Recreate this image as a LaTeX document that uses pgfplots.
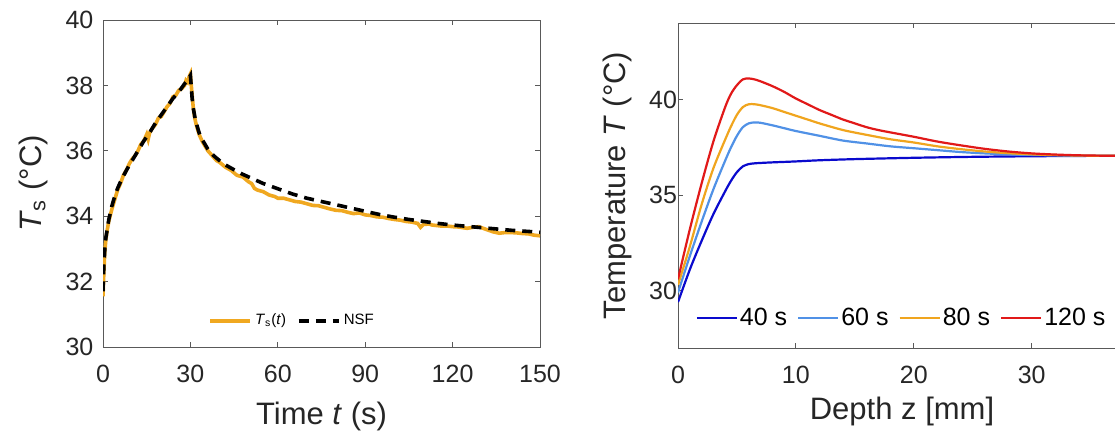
\documentclass[border=0pt]{standalone}
\usepackage{fontspec}
\setmainfont{Liberation Sans}
\usepackage{pgfplots}
\pgfplotsset{compat=1.18}

\definecolor{axtext}{RGB}{38,38,38}
\definecolor{tsorange}{RGB}{240,168,32}
\definecolor{c40}{RGB}{10,10,205}
\definecolor{c60}{RGB}{80,145,230}
\definecolor{c80}{RGB}{240,165,30}
\definecolor{c120}{RGB}{225,25,25}

\pgfplotsset{
  matlab/.style={
    scale only axis,
    axis line style={black!65, line width=0.5pt},
    every tick/.style={black!65, line width=0.5pt},
    major tick length=2.5pt,
    tick align=inside,
    ticklabel style={font=\fontsize{12.5}{14}\selectfont, text=axtext},
    label style={font=\fontsize{15.5}{18}\selectfont, text=axtext},
    /pgf/number format/assume math mode=true,
    xticklabel style={yshift=-5.5pt},
    legend cell align=left,
    legend image code/.code={\draw[#1] (0pt,0pt) -- (20pt,0pt);},
  },
}

\begin{document}
\begin{tikzpicture}
% picture frame in pt: 1 px of the reference = 0.5pt
\useasboundingbox (0pt,0pt) rectangle (557.5pt,-215pt);
\clip (0pt,0pt) rectangle (557.5pt,-215pt);

% ---- left: surface temperature over time
\begin{axis}[
  matlab,
  at={(51.5pt,-173.5pt)}, anchor=south west,
  width=218.5pt, height=163.5pt,
  xmin=0, xmax=150, ymin=30, ymax=40,
  xtick={0,30,...,150}, ytick={30,32,...,40},
  yticklabel style={xshift=-1.3pt},
  xlabel={Time \textit{t} (s)},
  ylabel={\textit{T}\textsubscript{s} (°C)},
  xlabel style={at={(axis description cs:0.5,-0.2385)}, anchor=base},
  ylabel style={at={(axis description cs:-0.16,0.5)}, anchor=center},
  legend style={at={(axis description cs:0.434,0.08)}, anchor=center,
    draw=none, fill=none, legend columns=2,
    font=\fontsize{7.5}{9}\selectfont,
    nodes={inner xsep=1.5pt},
    /tikz/every even column/.append style={column sep=4pt}},
]
\addplot[tsorange, line width=1.8pt] coordinates {
(0,31.55) (0.3,32.3) (0.6,32.9) (1,33.3) (1.5,33.6) (2,33.85) (3,34.2) (4,34.5)
(5,34.8) (6,35.0) (7,35.25) (8,35.4) (9,35.6) (10,35.75) (11,35.85) (12,36.0)
(13,36.2) (14,36.3) (15,36.5) (15.5,36.35) (16,36.55) (17,36.7) (18,36.8) (19,37.0)
(20,37.05) (21,37.2) (22,37.35) (23,37.45) (24,37.65) (25,37.7) (26,37.85) (27,37.9)
(28,38.0) (28.5,38.15) (29,38.1) (29.5,38.25) (30,38.35) (30.3,38.0) (30.7,37.6) (31,37.3)
(31.5,37.0) (32,36.8) (33,36.5) (34,36.3) (35,36.15) (36,36.0) (37,35.9) (38,35.8)
(39,35.7) (40,35.65) (42,35.5) (44,35.4) (46,35.25) (48,35.2) (50,35.05) (51,35.0)
(52,34.85) (53,34.8) (55,34.75) (57,34.65) (59,34.6) (60,34.55) (62,34.55) (64,34.5)
(66,34.45) (68,34.43) (70,34.38) (72,34.33) (74,34.32) (76,34.27) (78,34.22) (80,34.18)
(82,34.17) (84,34.12) (86,34.08) (88,34.1) (90,34.04) (92,34.02) (94,33.98) (96,33.97)
(98,33.93) (100,33.9) (102,33.88) (104,33.84) (106,33.82) (108,33.78) (109,33.66) (110,33.75)
(112,33.76) (113,33.73) (116,33.7) (118,33.7) (120,33.68) (122,33.67) (125,33.63) (127,33.66)
(129,33.68) (132,33.58) (134,33.52) (136,33.48) (138,33.5) (140,33.5) (142,33.49) (144,33.47)
(146,33.46) (148,33.42) (150,33.4)
};
\addlegendentry{\textit{T}\textsubscript{s}(\textit{t})}
\addplot[black, line width=1.8pt, dash pattern=on 5pt off 3.5pt] coordinates {
(0,31.7) (0.3,32.5) (0.7,33.1) (1,33.35) (2,33.9) (3,34.3) (4,34.6) (5,34.85)
(6,35.05) (8,35.4) (10,35.7) (12,36.0) (14,36.3) (16,36.55) (18,36.85) (20,37.1)
(22,37.35) (24,37.6) (26,37.8) (28,38.05) (29,38.15) (30,38.3) (30.3,37.95) (30.6,37.6)
(31,37.3) (31.5,37.05) (32,36.85) (33,36.55) (34,36.35) (35,36.2) (36,36.05) (38,35.85)
(40,35.7) (42,35.57) (45,35.42) (48,35.28) (50,35.2) (55,35.0) (60,34.84) (65,34.68)
(70,34.55) (75,34.45) (80,34.35) (85,34.25) (90,34.15) (95,34.05) (100,33.97) (105,33.9)
(110,33.84) (115,33.78) (120,33.73) (125,33.69) (130,33.65) (135,33.61) (140,33.57)
(145,33.54) (150,33.51)
};
\addlegendentry{NSF}
\end{axis}

% ---- right: temperature over depth
\begin{axis}[
  matlab,
  at={(339pt,-174pt)}, anchor=south west,
  width=224pt, height=162.5pt,
  xmin=0, xmax=38, ymin=27, ymax=44,
  xtick={0,10,20,30}, ytick={30,35,40},
  yticklabel style={xshift=3pt},
  xlabel={Depth z [mm]},
  ylabel={Temperature \textit{T} (°C)},
  xlabel style={at={(axis description cs:0.5,-0.2215)}, anchor=base},
  ylabel style={at={(axis description cs:-0.134,0.5)}, anchor=center},
  legend style={at={(axis description cs:0.499,0.092)}, anchor=center,
    draw=none, fill=none, legend columns=4,
    font=\fontsize{12.5}{14}\selectfont,
    nodes={inner xsep=1pt},
    /tikz/every even column/.append style={column sep=4pt}},
]
\addplot[c40, line width=1.1pt, smooth] coordinates {
(0,29.4) (1,31.1) (2,32.6) (3,34.0) (4,35.2) (4.5,35.75) (5,36.2) (5.5,36.5)
(6,36.62) (6.5,36.66) (7,36.68) (8,36.71) (10,36.76) (12,36.82) (15,36.88)
(20,36.95) (25,37.0) (30,37.03) (35,37.05) (38,37.05)
};
\addlegendentry{40 s}
\addplot[c60, line width=1.1pt, smooth] coordinates {
(0,29.9) (1,31.8) (2,33.6) (3,35.3) (4,36.8) (4.5,37.5) (5,38.1) (5.5,38.55)
(6,38.75) (6.5,38.8) (7,38.78) (8,38.65) (9,38.5) (10,38.35) (12,38.1) (14,37.85)
(16,37.7) (18,37.55) (20,37.45) (22,37.35) (24,37.25) (26,37.18) (28,37.13)
(30,37.1) (32,37.08) (35,37.06) (38,37.05)
};
\addlegendentry{60 s}
\addplot[c80, line width=1.1pt, smooth] coordinates {
(0,30.3) (1,32.3) (2,34.5) (3,36.4) (4,37.9) (4.5,38.6) (5,39.2) (5.5,39.6)
(6,39.75) (6.5,39.75) (7,39.7) (8,39.55) (9,39.35) (10,39.15) (11,38.95) (12,38.75)
(14,38.4) (16,38.15) (18,37.92) (20,37.75) (22,37.55) (24,37.4) (26,37.28)
(28,37.19) (30,37.13) (32,37.09) (35,37.06) (38,37.05)
};
\addlegendentry{80 s}
\addplot[c120, line width=1.1pt, smooth] coordinates {
(0,30.6) (1,33.2) (2,35.6) (3,37.8) (4,39.6) (4.5,40.3) (5,40.75) (5.5,41.05)
(6,41.1) (6.5,41.05) (7,40.95) (8,40.7) (9,40.4) (10,40.05) (11,39.75) (12,39.45)
(13,39.2) (14,38.95) (15,38.75) (16,38.55) (17,38.4) (18,38.28) (20,38.05)
(22,37.8) (24,37.6) (26,37.42) (28,37.28) (30,37.18) (32,37.12) (34,37.08)
(36,37.06) (38,37.05)
};
\addlegendentry{120 s}
\end{axis}
\end{tikzpicture}
\end{document}
